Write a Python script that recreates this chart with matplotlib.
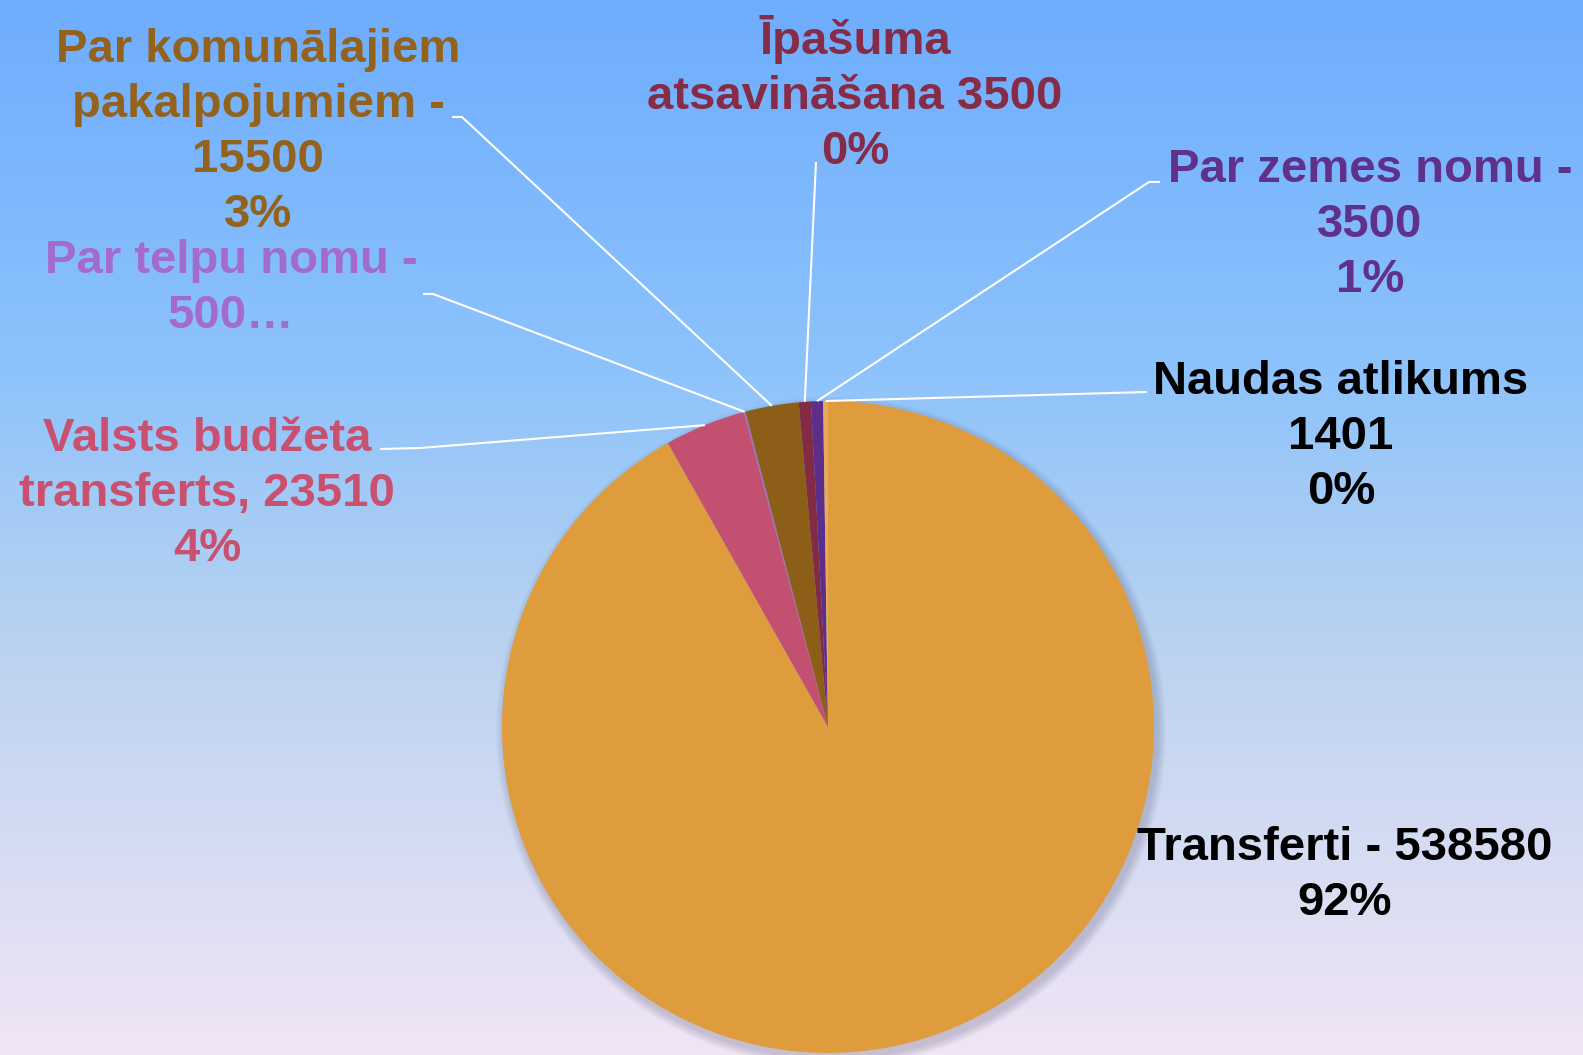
import numpy as np
import matplotlib
matplotlib.use("Agg")
import matplotlib.pyplot as plt
from matplotlib.colors import LinearSegmentedColormap
from matplotlib.patches import Circle

# Data
categories = ["Transferti", "Valsts budžeta transferts", "Par telpu nomu",
              "Par komunālajiem pakalpojumiem", "Īpašuma atsavināšana",
              "Par zemes nomu", "Naudas atlikums"]
values = [538580, 23510, 500, 15500, 3500, 3500, 1401]
labels = [["Transferti - 538580", "92%"],
          ["Valsts budžeta", "transferts, 23510", "4%"],
          ["Par telpu nomu -", "500…"],
          ["Par komunālajiem", "pakalpojumiem -", "15500", "3%"],
          ["Īpašuma", "atsavināšana 3500", "0%"],
          ["Par zemes nomu -", "3500", "1%"],
          ["Naudas atlikums", "1401", "0%"]]
slice_colors = ["#DE9C3D", "#C45071", "#9A72C9", "#8D5E18", "#832A45", "#5E2F88", "#E9AA5A"]
text_colors = ["#000000", "#C9506F", "#A36BCB", "#93621C", "#862C46", "#60318A", "#000000"]

W, H = 1583, 1055
cx, cy, R = 828, H - 727, 326
line_gap = 55

# label centres (x, y of first line centre in image pixels) and leader anchor points
label_pos = [(1345, 843), (207, 434), (231, 256), (258, 45), (855, 37), (1370, 165), (1341, 377)]
leaders = [None,
           [(420, 448), (380, 449)],
           [(433, 294), (423, 294)],
           [(462, 117), (452, 117)],
           [(816, 162)],
           [(1149, 182), (1160, 182)],
           [(1147, 392)]]

plt.rcParams['font.family'] = ['Liberation Sans', 'DejaVu Sans']
fig = plt.figure(figsize=(W / 100, H / 100), dpi=100)

# background gradient
bg = fig.add_axes([0, 0, 1, 1])
cmap = LinearSegmentedColormap.from_list("bg", [(0.0, "#6EADFE"), (0.35, "#8DC3FC"),
                                                (0.6, "#B8D2F0"), (1.0, "#F1E5F5")])
bg.imshow(np.linspace(0, 1, 256).reshape(-1, 1), aspect="auto", cmap=cmap,
          extent=[0, 1, 0, 1], origin="upper")
bg.axis("off")

ax = fig.add_axes([0, 0, 1, 1])
ax.patch.set_alpha(0)

# soft shadow
for k in range(9):
    ax.add_patch(Circle((cx + 3, cy - 5), R + 9 - k, color="#5A5A78", alpha=0.03, lw=0))

wedges, _ = ax.pie(values, colors=slice_colors, startangle=90, counterclock=False,
                   center=(cx, cy), radius=R, wedgeprops=dict(linewidth=0))

# leader lines from slice midpoints
cum = np.cumsum([0] + values)
total = cum[-1]
for i, pts in enumerate(leaders):
    if pts is None:
        continue
    mid = (cum[i] + cum[i + 1]) / 2 / total * 2 * np.pi
    ex, ey = cx + R * np.sin(mid), cy + R * np.cos(mid)
    xs = [ex] + [p[0] for p in pts]
    ys = [ey] + [H - p[1] for p in pts]
    ax.plot(xs, ys, color="white", lw=1.5, solid_capstyle="butt")

for lines, (x, y), col in zip(labels, label_pos, text_colors):
    for j, line in enumerate(lines):
        ax.text(x, H - (y + j * line_gap) - 17, line, color=col, fontsize=34,
                fontweight="bold", ha="center", va="baseline")

ax.set_xlim(0, W)
ax.set_ylim(0, H)
ax.axis("off")

fig.savefig("out.png", dpi=100)
